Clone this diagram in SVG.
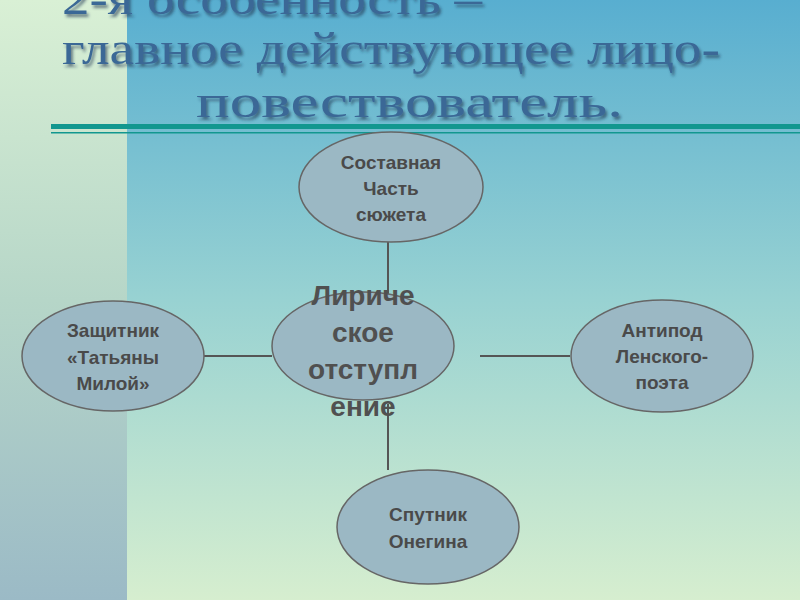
<svg xmlns="http://www.w3.org/2000/svg" width="800" height="600" viewBox="0 0 800 600">
<defs>
<linearGradient id="bgMain" x1="0" y1="0" x2="0" y2="1">
<stop offset="0" stop-color="#58aed0"/>
<stop offset="0.5" stop-color="#98d2d2"/>
<stop offset="1" stop-color="#d6eecf"/>
</linearGradient>
<linearGradient id="bgLeft" x1="0" y1="0" x2="0" y2="1">
<stop offset="0" stop-color="#d9f0d5"/>
<stop offset="0.5" stop-color="#b6d6c8"/>
<stop offset="1" stop-color="#9bbac6"/>
</linearGradient>
<filter id="sh" x="-5%" y="-20%" width="110%" height="140%">
<feDropShadow dx="2" dy="3" stdDeviation="1.5" flood-color="#1a3550" flood-opacity="0.6"/>
</filter>
</defs>
<style>
.title{font-family:"Liberation Serif","DejaVu Serif",serif;font-size:47px;fill:#3b6896;filter:url(#sh)}
.node ellipse{fill:#9bb8c4;stroke:#666;stroke-width:1.5}
.lbl{font-family:"Liberation Sans",Arial,sans-serif;font-weight:bold;font-size:19px;fill:#4a4a4a;text-anchor:middle}
.big{font-size:28px;fill:#505050}
.conn line{stroke:#555;stroke-width:2}
</style>
<rect x="0" y="0" width="800" height="600" fill="url(#bgMain)"/>
<rect x="0" y="0" width="127" height="600" fill="url(#bgLeft)"/>
<g id="title">
<text class="title" x="62" y="14" textLength="420" lengthAdjust="spacingAndGlyphs">2-я особенность –</text>
<text class="title" x="62" y="64" textLength="658" lengthAdjust="spacingAndGlyphs">главное действующее лицо-</text>
<text class="title" x="196" y="117" textLength="427" lengthAdjust="spacingAndGlyphs">повествователь.</text>
</g>
<g id="rule">
<rect x="51" y="124" width="749" height="5" fill="#12978f"/>
<rect x="51" y="132" width="749" height="1.5" fill="#12978f"/>
</g>
<g id="connectors" class="conn">
<line x1="388" y1="242" x2="388" y2="296"/>
<line x1="388" y1="404" x2="388" y2="470"/>
<line x1="204" y1="356" x2="272" y2="356"/>
<line x1="480" y1="356" x2="570" y2="356"/>
</g>
<g id="n-top" class="node">
<ellipse cx="391" cy="187" rx="92" ry="55"/>
<text class="lbl" x="391" y="169">Составная</text>
<text class="lbl" x="391" y="195">Часть</text>
<text class="lbl" x="391" y="221">сюжета</text>
</g>
<g id="n-left" class="node">
<ellipse cx="113" cy="356" rx="91" ry="55"/>
<text class="lbl" x="113" y="337">Защитник</text>
<text class="lbl" x="113" y="364">«Татьяны</text>
<text class="lbl" x="113" y="390">Милой»</text>
</g>
<g id="n-right" class="node">
<ellipse cx="662" cy="356" rx="91" ry="56"/>
<text class="lbl" x="662" y="337">Антипод</text>
<text class="lbl" x="662" y="363">Ленского-</text>
<text class="lbl" x="662" y="389">поэта</text>
</g>
<g id="n-bottom" class="node">
<ellipse cx="428" cy="527" rx="91" ry="57"/>
<text class="lbl" x="428" y="521">Спутник</text>
<text class="lbl" x="428" y="548">Онегина</text>
</g>
<g id="n-center" class="node">
<ellipse cx="363" cy="346" rx="91" ry="54"/>
<text class="lbl big" x="363" y="305">Лириче</text>
<text class="lbl big" x="363" y="342">ское</text>
<text class="lbl big" x="363" y="379">отступл</text>
<text class="lbl big" x="363" y="416">ение</text>
</g>
</svg>
